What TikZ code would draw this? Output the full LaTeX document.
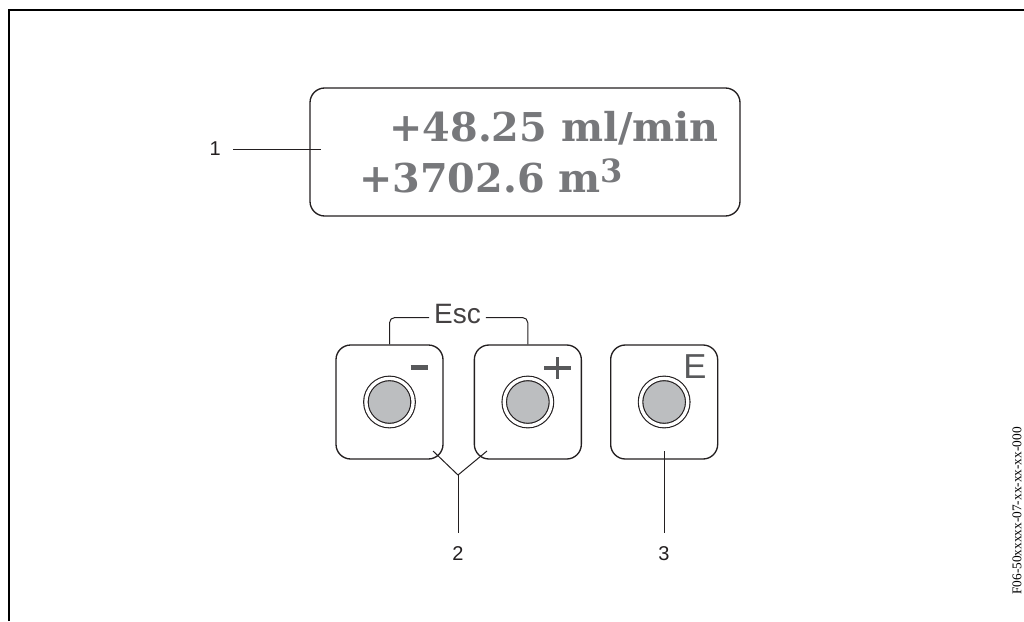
\documentclass[tikz,border=0pt]{standalone}
\usepackage{fontspec}
\setmainfont{Liberation Sans}
\newfontfamily\lcdfont{DejaVu Serif}
\newfontfamily\codefont{Liberation Serif}
\usetikzlibrary{positioning, calc}
\definecolor{lcdgray}{HTML}{77787B}
\definecolor{keygray}{HTML}{BCBEC0}
\definecolor{signgray}{HTML}{58595B}
\definecolor{inkline}{HTML}{231F20}
\newcommand{\cubed}{\raisebox{7.5pt}{\fontsize{24}{24}\selectfont 3}}

\begin{document}
\begin{tikzpicture}[x=0.75pt, y=-0.75pt,
  every node/.style={text=inkline},
  lcdbox/.style={draw=inkline, line width=1pt, rounded corners=11pt,
    minimum width=322.5pt, minimum height=96pt, inner sep=0pt},
  lcdtext/.style={text=lcdgray, inner sep=0pt,
    font=\lcdfont\bfseries\fontsize{29.8}{30}\selectfont},
  keypad/.style={draw=inkline, line width=1pt, rounded corners=11pt,
    minimum width=80.25pt, minimum height=85.5pt, inner sep=0pt},
  knob/.style={circle, draw=inkline, line width=0.85pt, double=white,
    double distance=2.5pt, fill=keygray, minimum size=35.4pt, inner sep=0pt},
  sign/.style={draw=signgray, line width=3.4pt},
  keytext/.style={inner sep=0pt, font=\fontsize{21}{21}\selectfont},
  callout/.style={inner sep=0pt, font=\fontsize{15}{15}\selectfont},
  leader/.style={draw=inkline, line width=0.75pt},
  frameline/.style={draw=black, line width=1.5pt}]
  \useasboundingbox (0,0) rectangle (1024,621);
  \draw[frameline] (9,621) -- (9,10) -- (1024,10);

  % display
  \node[lcdbox] (lcd) at (525,152) {};
  \node[lcdtext, anchor=base east] (flow) at (719,141) {+48.25 ml/min};
  \node[lcdtext, anchor=base west] (total) at (359,192) {+3702.6 m\cubed};

  % keys
  \node[keypad] (kminus) at (389.5,402) {};
  \node[keypad, right=22.5pt of kminus] (kplus) {};
  \node[keypad, right=21pt of kplus] (kenter) {};
  \node[knob] (cminus) at (kminus.center) {};
  \node[knob] (cplus) at (kplus.center) {};
  \node[knob] (center) at (kenter.center) {};
  \draw[sign] ([shift={(-33,23)}]kminus.north east) -- ++(17,0);
  \draw[sign, line width=2.9pt] ([shift={(-38,24)}]kplus.north east) -- ++(27,0);
  \draw[sign, line width=2.9pt] ([shift={(-24.5,13)}]kplus.north east) -- ++(0,22);
  \node[keytext, text=signgray, font=\fontsize{26}{26}\selectfont,
    anchor=base west] (etag) at (683,378) {E};

  % Esc bracket
  \node[keytext, text=inkline!85, anchor=base, inner sep=3.5pt] (esc) at (457.5,323) {Esc};
  \draw[leader, rounded corners=4pt] ([yshift=-3pt]esc.west) -| (kminus.north);
  \draw[leader, rounded corners=4pt] ([yshift=-3pt]esc.east) -| (kplus.north);

  % callouts
  \coordinate (tip1) at (321,149);
  \coordinate (tail1) at (233,149);
  \node[callout, left=9pt of tail1] (lbl1) {1};
  \draw[leader] (tail1) -- (tip1);

  \coordinate (tip2a) at (433,451);
  \coordinate (tip2b) at (487,451);
  \coordinate (fork) at (458,475);
  \coordinate (foot2) at (458,533);
  \node[callout, below=10pt of foot2] (lbl2) {2};
  \draw[leader] (tip2a) -- (fork) -- (tip2b);
  \draw[leader] (fork) -- (foot2);

  \coordinate (tip3) at (664,451);
  \coordinate (foot3) at (664,533);
  \node[callout, below=10pt of foot3] (lbl3) {3};
  \draw[leader] (tip3) -- (foot3);

  \node[rotate=90, text=black, inner sep=0pt,
    font=\codefont\fontsize{10}{10}\selectfont] (figid) at (1017,511)
    {F06-50xxxxx-07-xx-xx-xx-000};
\end{tikzpicture}
\end{document}
